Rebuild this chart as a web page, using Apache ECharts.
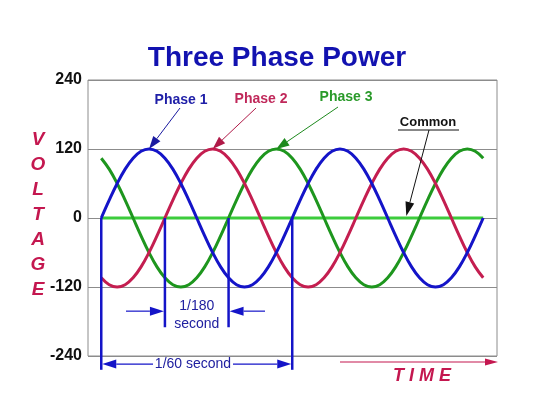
<!DOCTYPE html>
<html>
<head>
<meta charset="utf-8">
<script src="https://cdn.jsdelivr.net/npm/echarts@6/dist/echarts.min.js"></script>
<style>html,body{margin:0;padding:0;background:#fff}#c{width:540px;height:417px}</style>
</head>
<body>
<div id="c"></div>
<script>
// Phase angle (degrees) of each sample, two full cycles
const angles = [0,15,30,45,60,75,90,105,120,135,150,165,180,195,210,225,240,255,270,285,300,315,330,345,
  360,375,390,405,420,435,450,465,480,495,510,525,540,555,570,585,600,615,630,645,660,675,690,705,720];
// Voltage values
const phase1 = [0,31,60,85,104,116,120,116,104,85,60,31,0,-31,-60,-85,-104,-116,-120,-116,-104,-85,-60,-31,
  0,31,60,85,104,116,120,116,104,85,60,31,0,-31,-60,-85,-104,-116,-120,-116,-104,-85,-60,-31,0];
const phase2 = [-104,-116,-120,-116,-104,-85,-60,-31,0,31,60,85,104,116,120,116,104,85,60,31,0,-31,-60,-85,
  -104,-116,-120,-116,-104,-85,-60,-31,0,31,60,85,104,116,120,116,104,85,60,31,0,-31,-60,-85,-104];
const phase3 = [104,85,60,31,0,-31,-60,-85,-104,-116,-120,-116,-104,-85,-60,-31,0,31,60,85,104,116,120,116,
  104,85,60,31,0,-31,-60,-85,-104,-116,-120,-116,-104,-85,-60,-31,0,31,60,85,104,116,120,116,104];
const commonX = [0, 720];
const commonY = [0, 0];
const yTicks = [-240, -120, 0, 120, 240];
// markers: angle positions of the timing lines and their lower ends (volts)
const markAngles = [0, 120, 240, 360];
const markBottoms = [-264, -190, -190, -264];

const FONT = 'Liberation Sans, Arial, sans-serif';
const BLUE = '#1414c8', RED = '#c41e50', GREEN = '#1e961e', COMMON = '#3ccc3c';

function pairs(xs, ys){ return xs.map((x,i)=>[x, ys[i]]); }

const chart = echarts.init(document.getElementById('c'), null, {renderer:'canvas'});
chart.setOption({
  animation: false,
  backgroundColor: '#fff',
  grid: {left: 88, right: 43, top: 80, bottom: 61, show: true, borderColor: '#8c8c8c', borderWidth: 1},
  xAxis: {type: 'value', min: -25, max: 746, show: false},
  yAxis: {type: 'value', min: yTicks[0], max: yTicks[yTicks.length-1], interval: 120,
    axisLine: {show: false}, axisTick: {show: false},
    axisLabel: {color: '#111', fontWeight: 'bold', fontSize: 16, fontFamily: FONT, margin: 6},
    splitLine: {lineStyle: {color: '#8c8c8c', width: 1}}},
  series: [
    {type: 'line', data: pairs(commonX, commonY), symbol: 'none', lineStyle: {color: COMMON, width: 3}, z: 2},
    {type: 'line', data: pairs(angles, phase3), symbol: 'none', smooth: 0.4, lineStyle: {color: GREEN, width: 3}, z: 3},
    {type: 'line', data: pairs(angles, phase2), symbol: 'none', smooth: 0.4, lineStyle: {color: RED, width: 3}, z: 3},
    {type: 'line', data: pairs(angles, phase1), symbol: 'none', smooth: 0.4, lineStyle: {color: BLUE, width: 3}, z: 3}
  ]
});

function px(x, y){ return chart.convertToPixel({gridIndex: 0}, [x, y]); }

function arrow(x1, y1, x2, y2, color, w, hl, hw){
  const dx = x2 - x1, dy = y2 - y1, L = Math.sqrt(dx*dx + dy*dy);
  const ux = dx / L, uy = dy / L;
  const bx = x2 - ux*hl, by = y2 - uy*hl;
  return [
    {type: 'line', shape: {x1: x1, y1: y1, x2: bx, y2: by}, style: {stroke: color, lineWidth: w}, z: 20},
    {type: 'polygon', shape: {points: [[x2, y2], [bx - uy*hw/2, by + ux*hw/2], [bx + uy*hw/2, by - ux*hw/2]]},
      style: {fill: color}, z: 20}
  ];
}
function txt(s, x, y, color, size, weight, style, align){
  return {type: 'text', z: 20, style: {text: s, x: x, y: y, fill: color, fontSize: size, fontWeight: weight || 'normal',
    fontStyle: style || 'normal', fontFamily: FONT, align: align || 'center', verticalAlign: 'middle'}};
}

const g = [];
// title
g.push(txt('Three Phase Power', 277, 58, '#1212b0', 28, 'bold'));
// VOLTAGE
const vl = ['V','O','L','T','A','G','E'];
vl.forEach((c, i) => g.push(txt(c, 38, 140 + i*25, '#c4174f', 19, 'bold', 'italic')));
// TIME
g.push(txt('T I M E', 422, 376, '#c4174f', 18, 'bold', 'italic'));
arrow(340, 362, 498, 362, '#c4174f', 1.2, 13, 7).forEach(e => g.push(e));
// Phase labels
g.push(txt('Phase 1', 181, 100, '#2020a8', 14, 'bold'));
g.push(txt('Phase 2', 261, 99, '#c0285a', 14, 'bold'));
g.push(txt('Phase 3', 346, 97, '#2a9a2a', 14, 'bold'));
// Phase arrows toward the peaks
const pk1 = px(90, 120), pk2 = px(210, 120), pk3 = px(330, 120);
arrow(180, 108, pk1[0], pk1[1], '#1a1aa0', 1, 13, 9).forEach(e => g.push(e));
arrow(256, 108, pk2[0], pk2[1], '#b01a48', 1, 13, 9).forEach(e => g.push(e));
arrow(338, 107, pk3[0], pk3[1], '#1e8a1e', 1, 13, 9).forEach(e => g.push(e));
// Common
g.push(txt('Common', 428, 122, '#111', 13, 'bold'));
g.push({type: 'line', z: 20, shape: {x1: 398, y1: 130, x2: 459, y2: 130}, style: {stroke: '#111', lineWidth: 1}});
const cm = px(575, 0);
arrow(429, 130, cm[0], cm[1] - 2, '#111', 1, 14, 9).forEach(e => g.push(e));
// timing lines
const mp = markAngles.map((a, i) => [px(a, 0), px(a, markBottoms[i])]);
mp.forEach(p => g.push({type: 'line', z: 15, shape: {x1: p[0][0], y1: p[0][1], x2: p[1][0], y2: p[1][1]},
  style: {stroke: BLUE, lineWidth: 2.5}}));
// 1/180 second
const y180 = px(0, -162)[1];
arrow(126, y180, mp[1][0][0] - 1, y180, BLUE, 1.2, 14, 9).forEach(e => g.push(e));
arrow(265, y180, mp[2][0][0] + 1, y180, BLUE, 1.2, 14, 9).forEach(e => g.push(e));
g.push(txt('1/180', (mp[1][0][0] + mp[2][0][0]) / 2, 306, '#2020a0', 14));
g.push(txt('second', (mp[1][0][0] + mp[2][0][0]) / 2, 324, '#2020a0', 14));
// 1/60 second
const y60 = px(0, -254)[1];
g.push(txt('1/60 second', 193, y60, '#2020a0', 14));
arrow(153, y60, mp[0][0][0] + 1, y60, BLUE, 1.2, 14, 9).forEach(e => g.push(e));
arrow(233, y60, mp[3][0][0] - 1, y60, BLUE, 1.2, 14, 9).forEach(e => g.push(e));

chart.setOption({graphic: {elements: g}});
</script>
</body>
</html>
